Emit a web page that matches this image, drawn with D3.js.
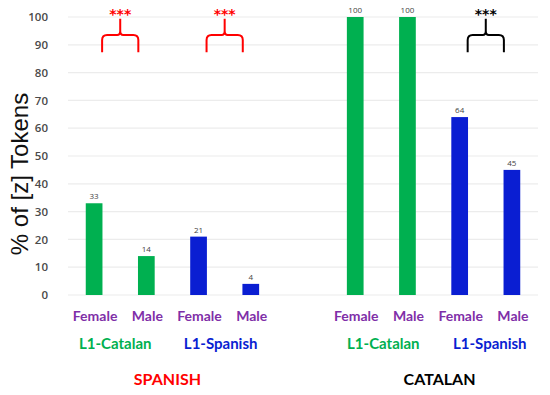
<!DOCTYPE html>
<html>
<head>
<meta charset="utf-8">
<script src="https://cdn.jsdelivr.net/npm/d3@7"></script>
<style>
  body { margin: 0; background: #fff; }
  svg { display: block; }
</style>
</head>
<body>
<div id="chart"></div>
<script>
// data
const slots = ["S-CF", "S-CM", "S-SF", "S-SM", "gap", "C-CF", "C-CM", "C-SF", "C-SM"];
const values = [33, 14, 21, 4, null, 100, 100, 64, 45];
const barGroups = ["cat", "cat", "spa", "spa", null, "cat", "cat", "spa", "spa"];
const genderLabels = ["Female", "Male", "Female", "Male", "", "Female", "Male", "Female", "Male"];
const l1Labels = [["L1-Catalan", "S-CF", "S-CM"], ["L1-Spanish", "S-SF", "S-SM"],
                  ["L1-Catalan", "C-CF", "C-CM"], ["L1-Spanish", "C-SF", "C-SM"]];
const langLabels = [["SPANISH", "S-CM", "S-SF"], ["CATALAN", "C-CM", "C-SF"]];
const braces = [["S-CF", "S-CM", "red"], ["S-SF", "S-SM", "red"], ["C-SF", "C-SM", "black"]];
const yTicks = [0, 10, 20, 30, 40, 50, 60, 70, 80, 90, 100];

const W = 550, H = 395;
const green = "#00B050", blue = "#0A1ED2", purple = "#7F2FA8";

const svg = d3.select("#chart").append("svg")
    .attr("width", W)
    .attr("height", H);

const x = d3.scaleBand()
    .domain(slots)
    .range([68, 538])
    .paddingInner(0.68)
    .paddingOuter(0.34);

const y = d3.scaleLinear()
    .domain([0, 100])
    .range([295, 17]);

// grid lines
svg.append("g")
    .selectAll("line")
    .data(yTicks)
    .join("line")
    .attr("x1", 68)
    .attr("x2", 538)
    .attr("y1", d => y(d))
    .attr("y2", d => y(d))
    .style("stroke", "#ececec")
    .style("stroke-width", 1.2);

// y axis labels
const yAxis = d3.axisLeft(y).tickValues(yTicks).tickSize(0).tickPadding(0);
svg.append("g")
    .attr("transform", "translate(48,0)")
    .call(yAxis)
    .call(g => g.select(".domain").remove())
    .selectAll("text")
    .style("font-family", "Open Sans, sans-serif")
    .style("font-size", "11.5px")
    .style("font-weight", "600")
    .style("fill", "#4a4a4a");

// y title
svg.append("text")
    .attr("transform", "translate(28,174) rotate(-90)")
    .attr("text-anchor", "middle")
    .style("font-family", "Liberation Sans, Arial, sans-serif")
    .style("font-size", "24px")
    .style("fill", "#111")
    .text("% of [z] Tokens");

// bars
const barData = slots.map((s, i) => ({ slot: s, value: values[i], grp: barGroups[i] }))
    .filter(d => d.value !== null);

svg.selectAll(".bar")
    .data(barData)
    .join("rect")
    .attr("class", "bar")
    .attr("x", d => x(d.slot))
    .attr("width", x.bandwidth())
    .attr("y", d => y(d.value))
    .attr("height", d => y(0) - y(d.value))
    .style("fill", d => d.grp === "cat" ? green : blue);

svg.selectAll(".val")
    .data(barData)
    .join("text")
    .attr("class", "val")
    .attr("x", d => x(d.slot) + x.bandwidth() / 2)
    .attr("y", d => y(d.value) - 4)
    .attr("text-anchor", "middle")
    .style("font-family", "Open Sans, sans-serif")
    .style("font-size", "8px")
    .style("fill", "#444")
    .text(d => d.value);

// gender labels
svg.selectAll(".gender")
    .data(slots.map((s, i) => ({ slot: s, label: genderLabels[i] })).filter(d => d.label))
    .join("text")
    .attr("class", "gender")
    .attr("x", d => x(d.slot) + x.bandwidth() / 2 + 1)
    .attr("y", 321)
    .attr("text-anchor", "middle")
    .style("font-family", "Lato, sans-serif")
    .style("font-size", "14px")
    .style("font-weight", "bold")
    .style("fill", purple)
    .text(d => d.label);

const mid = (a, b) => (x(a) + x(b) + x.bandwidth()) / 2;

// small nudges so the group labels sit where the original has them
const l1Shift = [-5, -4, 2, 4];
const langShift = { SPANISH: -5, CATALAN: 6 };

// L1 labels
svg.selectAll(".l1")
    .data(l1Labels)
    .join("text")
    .attr("class", "l1")
    .attr("x", (d, i) => mid(d[1], d[2]) + l1Shift[i])
    .attr("y", 349)
    .attr("text-anchor", "middle")
    .style("font-family", "Lato, sans-serif")
    .style("font-size", "15px")
    .style("font-weight", "bold")
    .style("fill", d => d[0] === "L1-Catalan" ? green : blue)
    .text(d => d[0]);

// language labels
svg.selectAll(".lang")
    .data(langLabels)
    .join("text")
    .attr("class", "lang")
    .attr("x", d => mid(d[1], d[2]) + langShift[d[0]])
    .attr("y", 385)
    .attr("text-anchor", "middle")
    .style("font-family", "Lato, sans-serif")
    .style("font-size", "16px")
    .style("font-weight", "bold")
    .style("fill", d => d[0] === "SPANISH" ? "#FF0000" : "#000")
    .text(d => d[0]);

// significance braces
function bracePath(x0, x1) {
  const xm = (x0 + x1) / 2;
  const yb = y(87.3), ym = y(93.5), yt = y(99.4), r = 5;
  return `M${x0},${yb} L${x0},${ym + r} Q${x0},${ym} ${x0 + r},${ym} L${xm - 3},${ym}` +
         ` Q${xm},${ym} ${xm},${ym - 4} L${xm},${yt}` +
         ` M${xm},${ym - 4} Q${xm},${ym} ${xm + 3},${ym} L${x1 - r},${ym} Q${x1},${ym} ${x1},${ym + r} L${x1},${yb}`;
}

const br = svg.selectAll(".brace")
    .data(braces)
    .join("g")
    .attr("class", "brace");

br.append("path")
    .attr("d", d => bracePath(x(d[0]) + x.bandwidth() / 2 + 8, x(d[1]) + x.bandwidth() / 2 - 8))
    .style("fill", "none")
    .style("stroke", d => d[2])
    .style("stroke-width", 2);

br.append("text")
    .attr("x", d => mid(d[0], d[1]))
    .attr("y", y(99.2))
    .attr("text-anchor", "middle")
    .style("font-family", "DejaVu Sans, sans-serif")
    .style("font-size", "14px")
    .style("font-weight", "bold")
    .style("fill", d => d[2])
    .text("***");
</script>
</body>
</html>
